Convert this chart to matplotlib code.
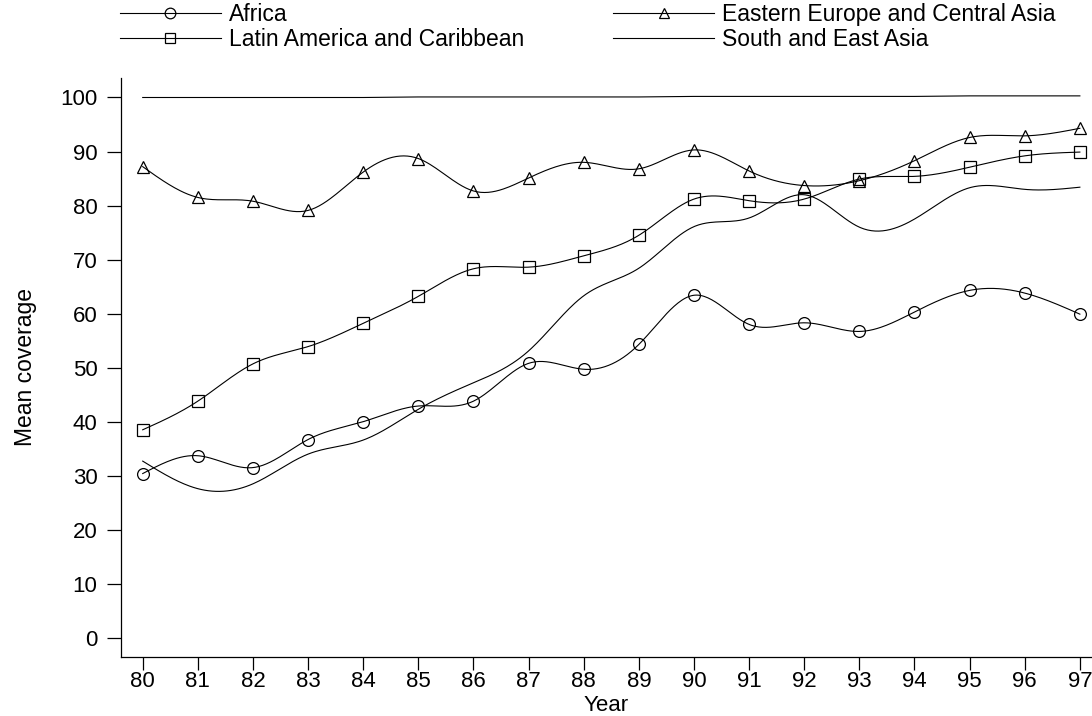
import numpy as np
import matplotlib
matplotlib.use("Agg")
import matplotlib.pyplot as plt
from matplotlib.lines import Line2D

plt.rcParams["font.family"] = ["Liberation Sans", "DejaVu Sans"]

# -----------------------------
# Data: mean coverage by region, 1980-1997
# -----------------------------
years = list(range(80, 98))

africa = [30.4, 33.7, 31.5, 36.7, 40.0, 42.9, 43.8, 50.8, 49.7,
          54.3, 63.4, 58.0, 58.3, 56.7, 60.3, 64.3, 63.8, 59.9]
latin_america = [38.5, 43.8, 50.7, 53.9, 58.2, 63.2, 68.3, 68.6, 70.7,
                 74.5, 81.2, 80.9, 81.2, 84.9, 85.4, 87.1, 89.2, 89.9]
eastern_europe = [87.2, 81.5, 80.8, 79.1, 86.2, 88.7, 82.7, 85.1, 88.0,
                  86.8, 90.3, 86.4, 83.7, 84.6, 88.3, 92.6, 92.9, 94.3]
south_east_asia = [32.7, 27.6, 28.5, 34.0, 36.6, 42.3, 47.2, 53.1, 63.3,
                   68.4, 76.1, 77.7, 82.0, 76.0, 77.5, 83.3, 83.0, 83.4]
top_line = [100.0, 100.0, 100.0, 100.0, 100.0, 100.1, 100.1, 100.1, 100.1,
            100.1, 100.2, 100.2, 100.2, 100.2, 100.2, 100.3, 100.3, 100.3]

labels = ["Africa", "Latin America and Caribbean",
          "Eastern Europe and Central Asia", "South and East Asia"]


# -----------------------------
# Natural cubic spline for the smoothed connecting lines
# -----------------------------
def smooth(x, y, n=500):
    x = np.asarray(x, float)
    y = np.asarray(y, float)
    h = np.diff(x)
    m = len(x)
    A = np.zeros((m, m))
    b = np.zeros(m)
    A[0, 0] = A[-1, -1] = 1
    for i in range(1, m - 1):
        A[i, i - 1] = h[i - 1]
        A[i, i] = 2 * (h[i - 1] + h[i])
        A[i, i + 1] = h[i]
        b[i] = 3 * ((y[i + 1] - y[i]) / h[i] - (y[i] - y[i - 1]) / h[i - 1])
    c = np.linalg.solve(A, b)
    bc = (y[1:] - y[:-1]) / h - h * (2 * c[:-1] + c[1:]) / 3
    d = (c[1:] - c[:-1]) / (3 * h)
    xs = np.linspace(x[0], x[-1], n)
    idx = np.clip(np.searchsorted(x, xs) - 1, 0, m - 2)
    dx = xs - x[idx]
    ys = y[idx] + bc[idx] * dx + c[idx] * dx ** 2 + d[idx] * dx ** 3
    return xs, ys


# -----------------------------
# Plot
# -----------------------------
fig = plt.figure(figsize=(10.92, 7.16), dpi=100)
ax = fig.add_axes([0.1108, 0.0828, 0.8892, 0.8082])

lw = 0.8
series = [
    (africa, "o", 8.5),
    (latin_america, "s", 8),
    (eastern_europe, "^", 8.5),
    (south_east_asia, None, 0),
]
handles = []
for vals, mk, ms in series:
    xs, ys = smooth(years, vals)
    ax.plot(xs, ys, color="black", lw=lw)
    if mk:
        ax.plot(years, vals, linestyle="none", marker=mk, markersize=ms,
                markerfacecolor="none", markeredgecolor="black",
                markeredgewidth=0.9)
    handles.append(Line2D([], [], color="black", lw=lw, marker=mk,
                          markersize=ms * 0.9, markerfacecolor="none",
                          markeredgecolor="black", markeredgewidth=0.9))

ax.plot(years, top_line, color="black", lw=lw)

ax.set_xlim(79.606, 97.22)
ax.set_ylim(-3.5, 103.6)
ax.set_xticks(years)
ax.set_xticklabels([str(y) for y in years])
ax.set_yticks(range(0, 101, 10))

for side in ["top", "right"]:
    ax.spines[side].set_visible(False)
for side in ["left", "bottom"]:
    ax.spines[side].set_linewidth(0.9)

ax.tick_params(axis="y", length=10, width=0.9, pad=7, labelsize=16)
ax.tick_params(axis="x", length=9.5, width=0.9, pad=1, labelsize=16)

ax.set_xlabel("Year", fontsize=16, labelpad=2)
ax.set_ylabel("Mean coverage", fontsize=16.5, labelpad=17)

fig.legend(handles, labels, ncol=2, loc="upper left",
           bbox_to_anchor=(120 / 1092, 1 - 3 / 716),
           frameon=False, fontsize=16.5, handlelength=4.4,
           handletextpad=0.35, columnspacing=3.9, labelspacing=0.08,
           borderpad=0, borderaxespad=0, numpoints=1)

fig.savefig("out.png", dpi=100)
